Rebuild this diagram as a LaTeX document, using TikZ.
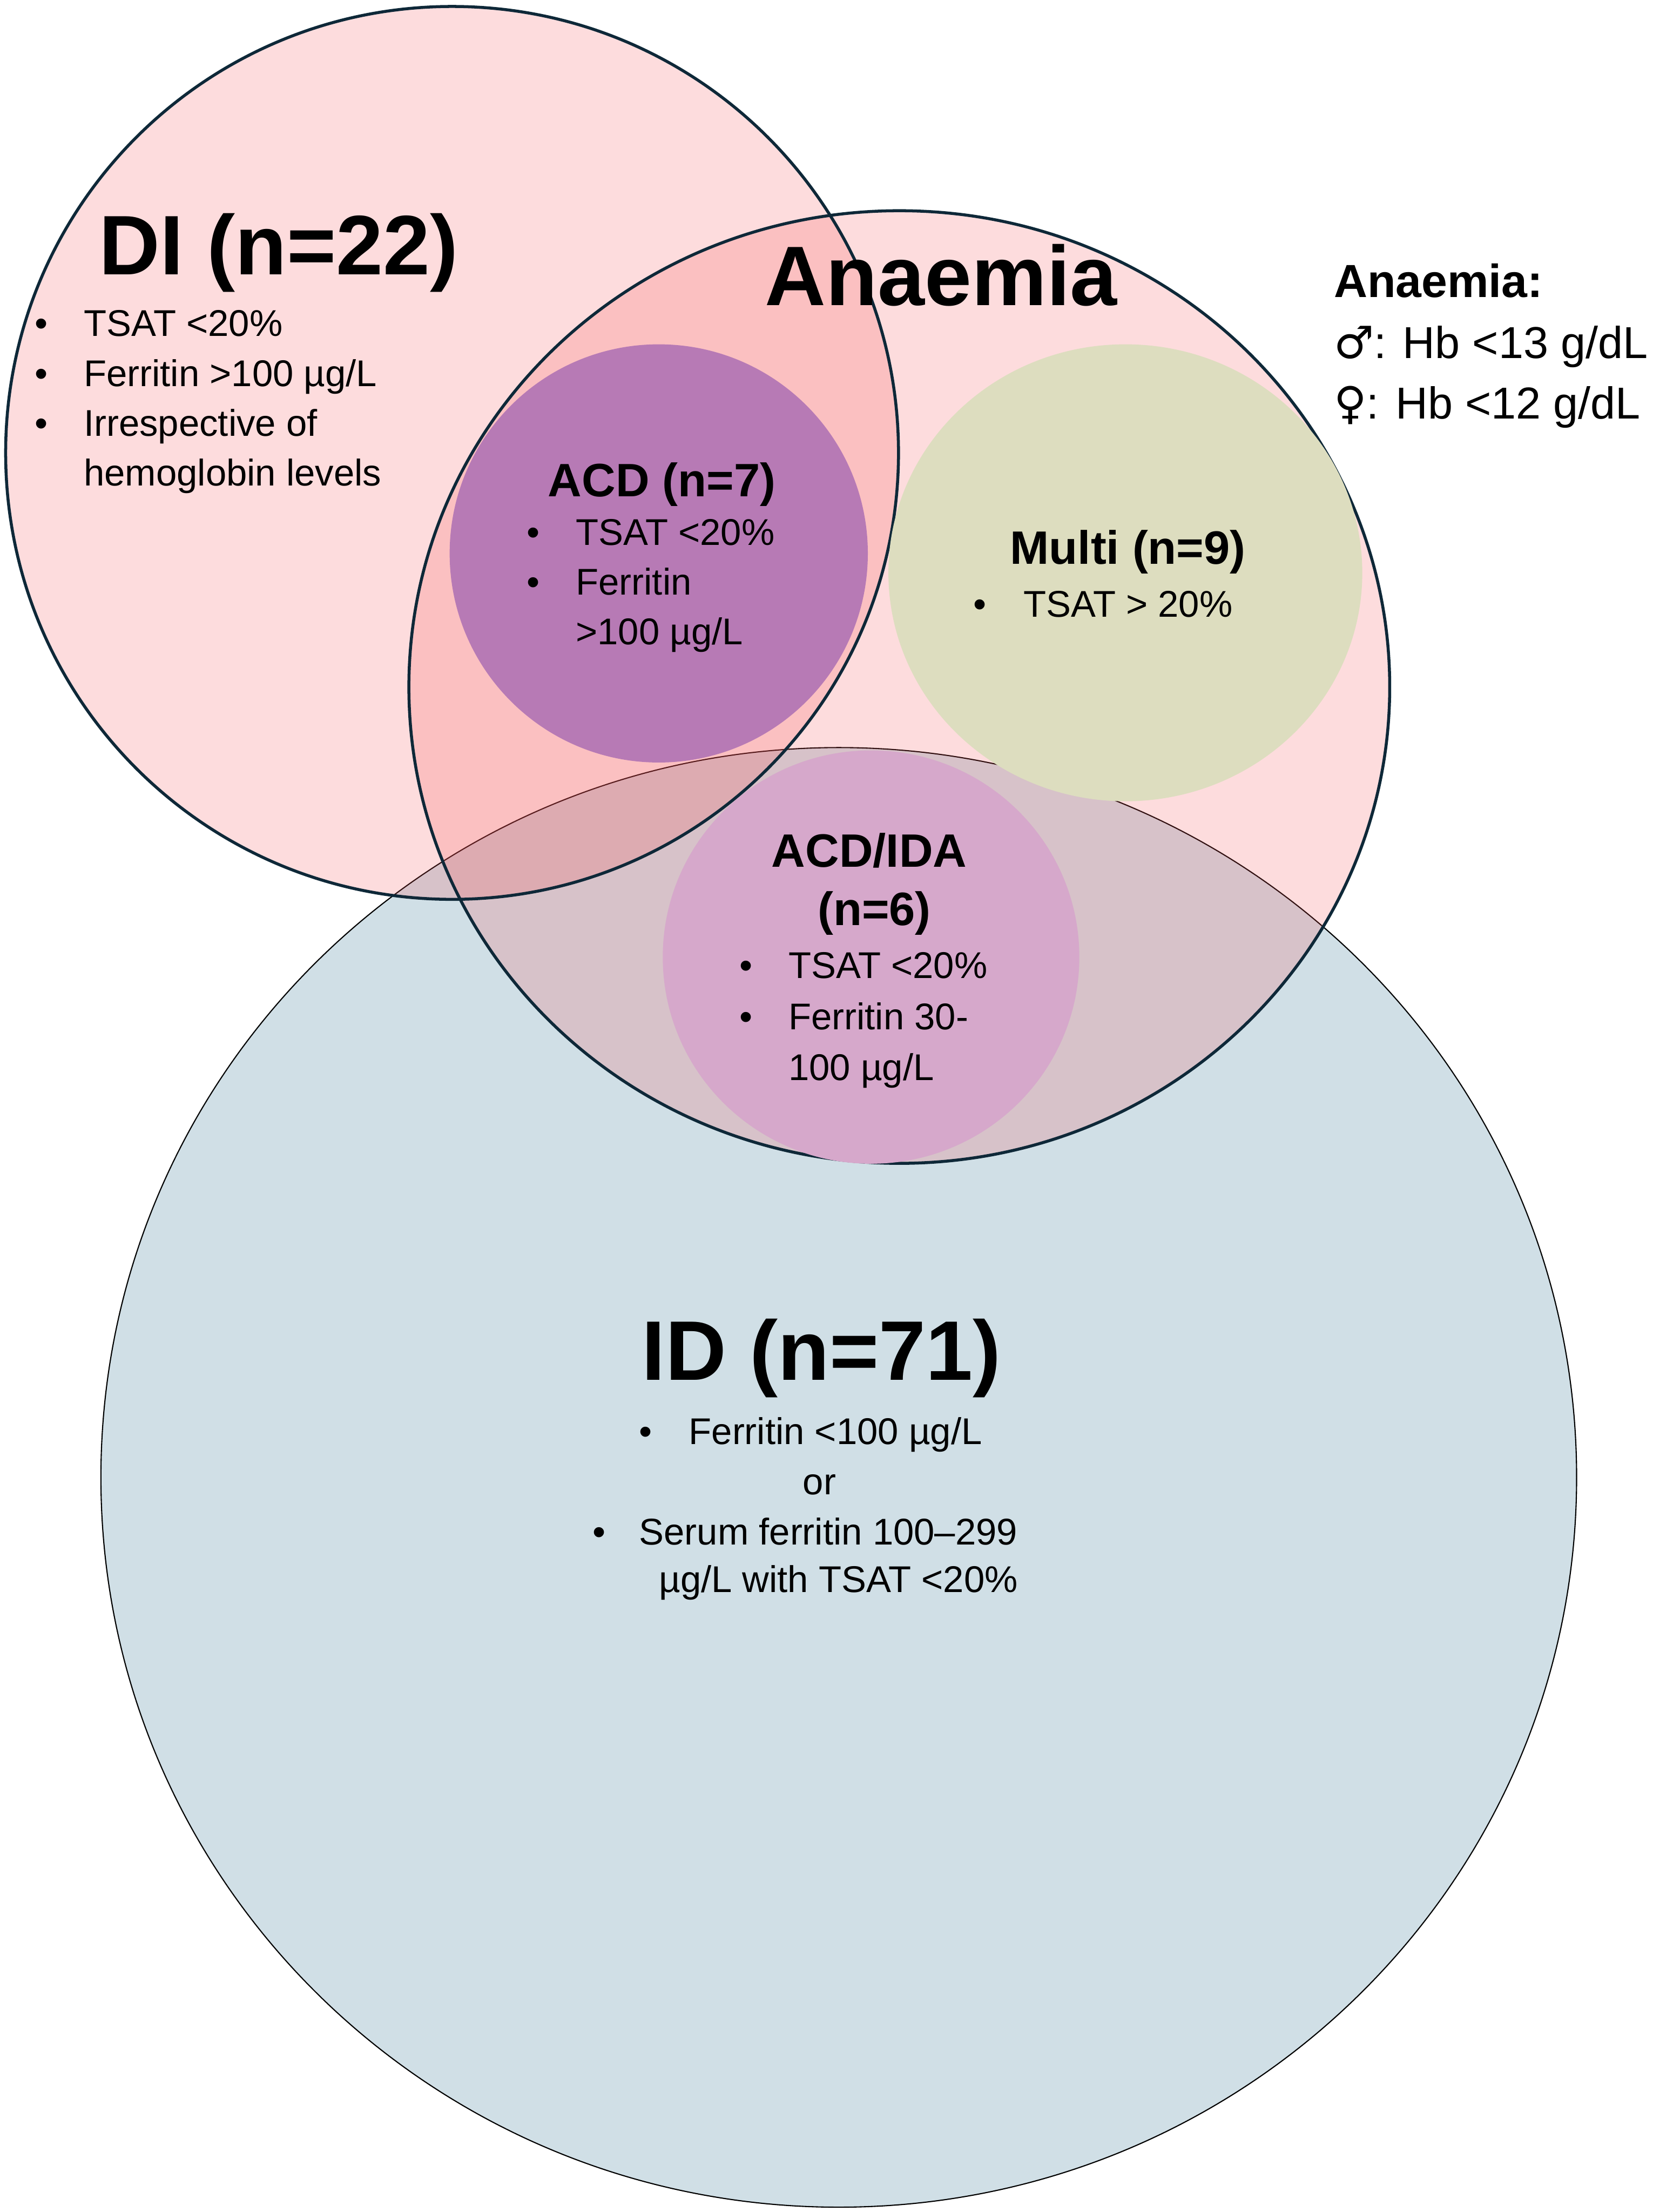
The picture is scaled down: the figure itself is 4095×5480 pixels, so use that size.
\documentclass[tikz,border=0pt]{standalone}
\usepackage{fontspec}
\setmainfont{Liberation Sans}
\newfontfamily\symfont{DejaVu Sans}
\definecolor{pinkC}{RGB}{245,80,85}
\definecolor{idC}{RGB}{208,223,230}
\definecolor{lineC}{RGB}{14,40,56}
\definecolor{acdC}{RGB}{183,122,181}
\definecolor{multiC}{RGB}{221,221,191}
\definecolor{acdidaC}{RGB}{214,168,203}
\begin{document}
\begin{tikzpicture}[x=0.01cm,y=-0.01cm,
  setline/.style={draw=lineC,line width=2.1pt},
  bigbold/.style={font=\bfseries\fontsize{59.5}{70}\selectfont,inner sep=0pt,anchor=base west},
  midbold/.style={font=\bfseries\fontsize{33}{40}\selectfont,inner sep=0pt,anchor=base west},
  bodytext/.style={font=\fontsize{26.2}{31}\selectfont,inner sep=0pt,anchor=base west},
  bul/.style={font=\fontsize{26.2}{31}\selectfont,inner sep=0pt,anchor=base},
  legbold/.style={font=\bfseries\fontsize{32.7}{40}\selectfont,inner sep=0pt,anchor=base west},
  legtext/.style={font=\fontsize{31.5}{40}\selectfont,inner sep=0pt,anchor=base west}]
\useasboundingbox (0,0) rectangle (4095,5480);
\fill[white] (0,0) rectangle (4095,5480);
% ID circle (bottom layer)
\fill[idC] (2078,3660) ellipse [x radius=1828, y radius=1808];
\draw[black,line width=0.8pt] (2078,3660) ellipse [x radius=1828, y radius=1808];
% DI and Anaemia translucent circles
\fill[pinkC,fill opacity=0.2] (1120,1122) circle [radius=1106];
\fill[pinkC,fill opacity=0.2] (2228,1702) ellipse [x radius=1215, y radius=1180];
\draw[setline] (1120,1122) circle [radius=1106];
\draw[setline] (2228,1702) ellipse [x radius=1215, y radius=1180];
% inner sets
\fill[acdC] (1632,1371) circle [radius=518];
\fill[multiC] (2788,1419) ellipse [x radius=587, y radius=566];
\fill[acdidaC] (2158,2371) ellipse [x radius=516, y radius=512];
% DI texts
\node[bigbold] (dititle) at (245,680) {DI (n=22)};
\node[bul] (dib1) at (103,833) {\textbullet};
\node[bodytext] (dit1) at (207,833) {TSAT <20\%};
\node[bul] (dib2) at (103,957) {\textbullet};
\node[bodytext] (dit2) at (207,957) {Ferritin >100 µg/L};
\node[bul] (dib3) at (103,1080) {\textbullet};
\node[bodytext] (dit3) at (207,1080) {Irrespective of};
\node[bodytext] (dit4) at (207,1204) {hemoglobin levels};
% Anaemia
\node[bigbold] (antitle) at (1895,757) {Anaemia};
% legend
\node[legbold] (leg1) at (3304,737) {Anaemia:};
\node[legtext] (leg2) at (3304,887) {{\symfont ♂}: Hb <13 g/dL};
\node[legtext] (leg3) at (3304,1037) {{\symfont ♀}: Hb <12 g/dL};
% ACD
\node[midbold] (acdtitle) at (1357,1230) {ACD (n=7)};
\node[bul] (acdb1) at (1321,1350) {\textbullet};
\node[bodytext] (acdt1) at (1426,1350) {TSAT <20\%};
\node[bul] (acdb2) at (1321,1474) {\textbullet};
\node[bodytext] (acdt2) at (1426,1474) {Ferritin};
\node[bodytext] (acdt3) at (1426,1597) {>100 µg/L};
% Multi
\node[midbold] (multititle) at (2502,1398) {Multi (n=9)};
\node[bul] (multib1) at (2428,1528) {\textbullet};
\node[bodytext] (multit1) at (2535,1528) {TSAT > 20\%};
% ACD/IDA
\node[midbold] (aititle1) at (1911,2148) {ACD/IDA};
\node[midbold] (aititle2) at (2025,2292) {(n=6)};
\node[bul] (aib1) at (1849,2424) {\textbullet};
\node[bodytext] (ait1) at (1953,2424) {TSAT <20\%};
\node[bul] (aib2) at (1849,2550) {\textbullet};
\node[bodytext] (ait2) at (1953,2550) {Ferritin 30-};
\node[bodytext] (ait3) at (1953,2676) {100 µg/L};
% ID
\node[bigbold] (idtitle) at (1590,3419) {ID (n=71)};
\node[bul] (idb1) at (1600,3578) {\textbullet};
\node[bodytext] (idt1) at (1706,3578) {Ferritin <100 µg/L};
\node[bodytext,anchor=base] (idor) at (2030,3703) {or};
\node[bul] (idb2) at (1485,3827) {\textbullet};
\node[bodytext] (idt2) at (1583,3827) {Serum ferritin 100–299};
\node[bodytext] (idt3) at (1632,3945) {µg/L with TSAT <20\%};
\end{tikzpicture}
\end{document}
